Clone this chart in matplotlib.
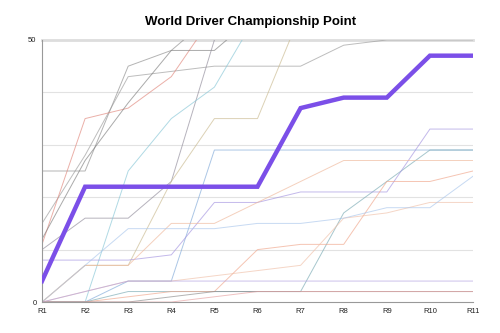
import matplotlib
matplotlib.use("Agg")
import matplotlib.pyplot as plt

plt.rcParams["font.family"] = ["Liberation Sans", "DejaVu Sans"]

# ── data ───────────────────────────────────────────────────────────────
rounds = ["R1", "R2", "R3", "R4", "R5", "R6", "R7", "R8", "R9", "R10", "R11"]

highlight = [4, 22, 22, 22, 22, 22, 37, 39, 39, 47, 47]

drv_a = [25, 25, 45, 48, 55, 60, 65, 70, 75, 80, 85]
drv_b = [15, 28, 43, 44, 45, 45, 45, 49, 50, 50, 50]
drv_c = [11, 35, 37, 43, 55, 60, 65, 70, 75, 80, 85]
drv_d = [12, 27, 38, 48, 48, 55, 60, 65, 70, 75, 80]
drv_e = [10, 16, 16, 23, 50, 55, 60, 65, 70, 75, 80]
drv_f = [0, 0, 25, 35, 41, 55, 60, 65, 70, 75, 80]
drv_g = [0, 7, 7, 23, 35, 35, 55, 60, 65, 70, 75]
drv_h = [0, 0, 4, 4, 29, 29, 29, 29, 29, 29, 29]
drv_i = [0, 0, 2, 2, 2, 2, 2, 17, 23, 29, 29]
drv_j = [8, 8, 8, 9, 19, 19, 21, 21, 21, 33, 33]
drv_k = [0, 0, 1, 2, 2, 10, 11, 11, 23, 23, 25]
drv_l = [0, 7, 7, 15, 15, 19, 23, 27, 27, 27, 27]
drv_m = [0, 2, 4, 4, 5, 6, 7, 16, 17, 19, 19]
drv_n = [0, 7, 14, 14, 14, 15, 15, 16, 18, 18, 24]
drv_o = [0, 0, 0, 1, 2, 2, 2, 2, 2, 2, 2]
drv_p = [0, 2, 4, 4, 4, 4, 4, 4, 4, 4, 4]
drv_q = [0, 0, 0, 0, 1, 2, 2, 2, 2, 2, 2]
drv_r = [0, 0, 0, 0, 0, 0, 0, 0, 0, 0, 0]

others = [drv_a, drv_b, drv_c, drv_d, drv_e, drv_f, drv_g, drv_h, drv_i,
          drv_j, drv_k, drv_l, drv_m, drv_n, drv_o, drv_p, drv_q, drv_r]
other_colors = ["#8c8c8c", "#9a9a9a", "#e0857a", "#7d7d7d", "#8f8a99",
                "#86c6d6", "#c9b98e", "#7fa8d8", "#78a9b3", "#a393e0",
                "#f0a58a", "#efb79a", "#f0c0a8", "#a9c6ec", "#8a8a8a",
                "#b0a0e0", "#e6a0a0", "#aaaaaa"]

# ── figure ─────────────────────────────────────────────────────────────
fig = plt.figure(figsize=(5, 3.33), dpi=100)
ax = fig.add_axes([0.084, 0.093, 0.862, 0.787])

x = range(len(rounds))
for vals, col in zip(others, other_colors):
    ax.plot(x, vals, color=col, lw=0.7, alpha=0.65)
ax.plot(x, highlight, color="#7b4fe8", lw=3.2, solid_joinstyle="miter", zorder=5)

ax.set_xlim(0, len(rounds) - 1)
ax.set_ylim(0, 50)
ax.set_xticks(list(x))
ax.set_xticklabels(rounds)
ax.set_yticks([0, 50])
for g in [10, 20, 30, 40]:
    ax.axhline(g, color="#e2e2e2", lw=0.8, zorder=0)
ax.axhline(50, color="#dddddd", lw=2, zorder=0, clip_on=False)

ax.tick_params(length=0, labelsize=5.5, colors="#222222", pad=4)
for s in ["top", "right"]:
    ax.spines[s].set_visible(False)
for s in ["left", "bottom"]:
    ax.spines[s].set_color("#999999")
    ax.spines[s].set_linewidth(0.8)

fig.text(0.502, 0.933, "World Driver Championship Point", ha="center",
         va="center", fontsize=9.5, weight="bold")

fig.savefig("out.png", dpi=100)
